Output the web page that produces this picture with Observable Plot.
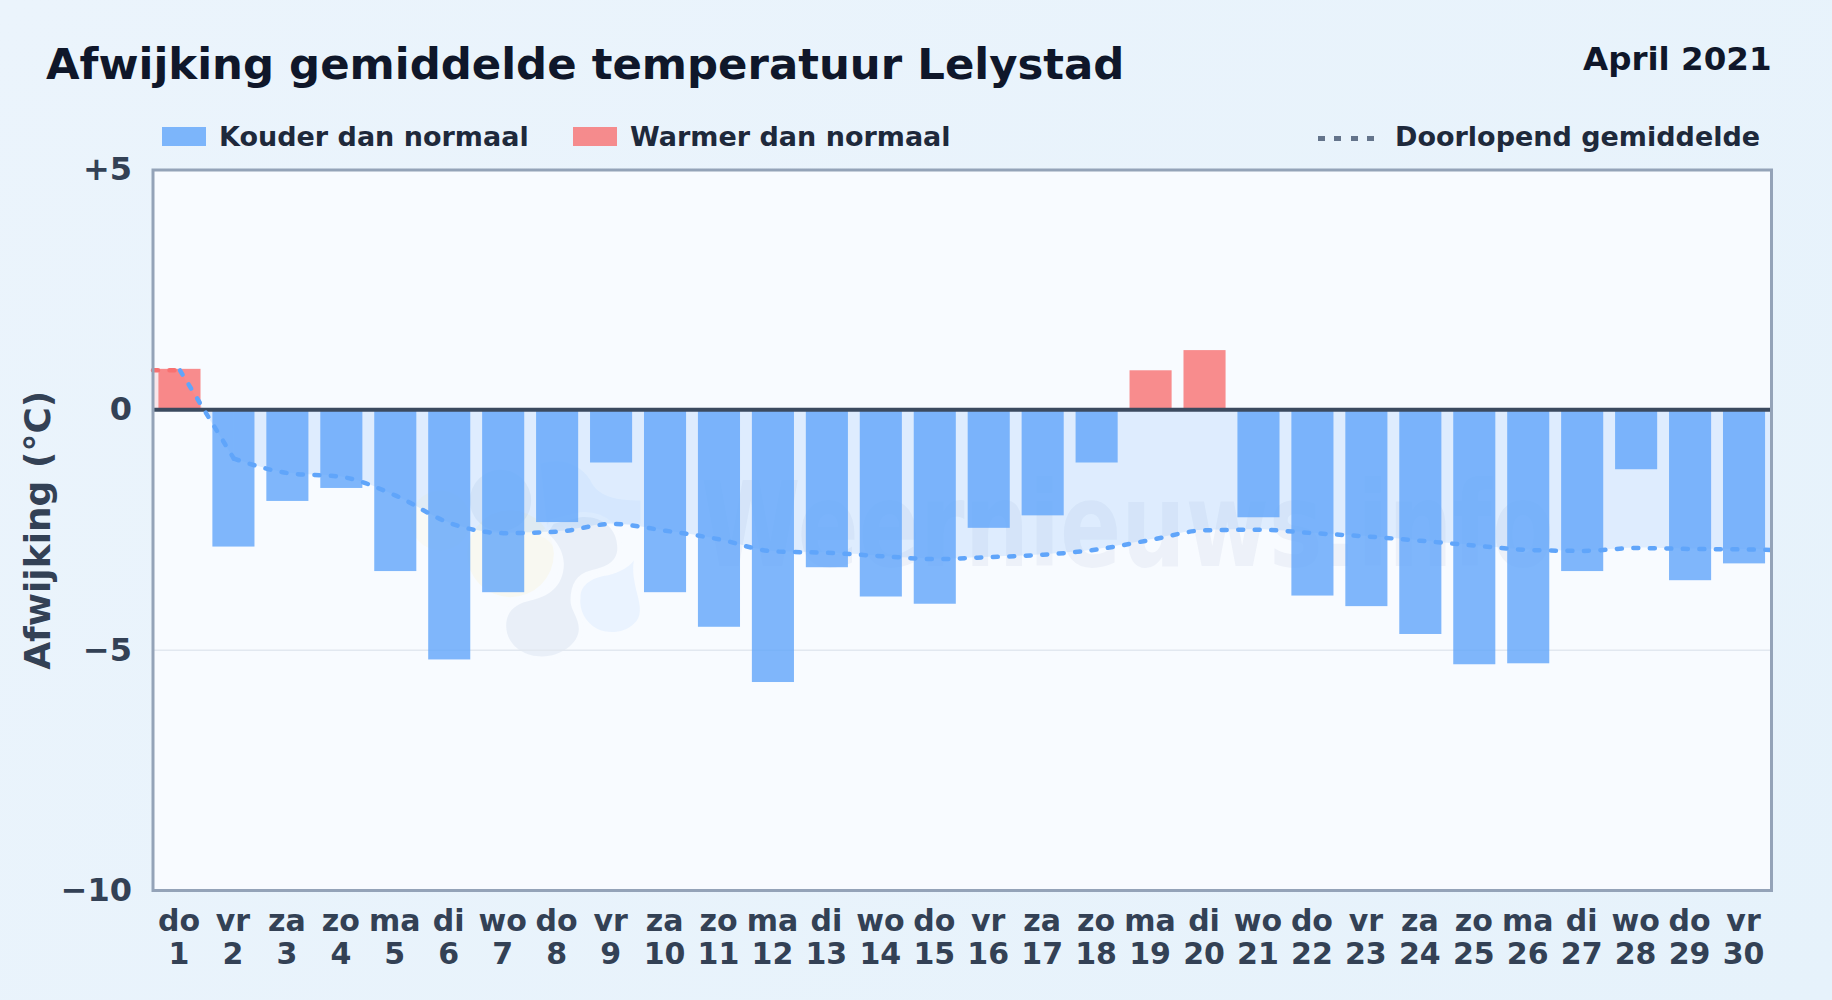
<!DOCTYPE html>
<html lang="nl">
<head>
<meta charset="utf-8">
<title>Afwijking gemiddelde temperatuur Lelystad</title>
<script src="https://cdn.jsdelivr.net/npm/d3@7"></script>
<script src="https://cdn.jsdelivr.net/npm/@observablehq/plot@0.6"></script>
<style>
  html, body { margin: 0; padding: 0; width: 1832px; height: 1000px; overflow: hidden;
    background: linear-gradient(135deg, #ebf4fc, #e6f2fb);
    font-family: "DejaVu Sans", sans-serif; font-weight: 700; }
  #header { position: relative; width: 1832px; height: 150px; }
  #header > * { position: absolute; white-space: nowrap; line-height: 1; }
  #title { left: 46px; top: 43px; font-size: 43.4px; color: #0f172a; }
  #period { right: 60.5px; top: 43px; font-size: 32.5px; color: #0f172a; }
  .leg { top: 123px; font-size: 27px; color: #1e293b; }
  .swatch { top: 127px; width: 44px; height: 19px; }
  #dots { left: 1317.5px; top: 136px; width: 56px; height: 5px;
    background: repeating-linear-gradient(90deg, #64748b 0 7px, transparent 7px 16.3px); }
  #chart svg { display: block; overflow: visible; }
</style>
</head>
<body>
<div id="header">
  <div id="title">Afwijking gemiddelde temperatuur Lelystad</div>
  <div id="period">April 2021</div>
  <div class="swatch" style="left:162px;background:rgba(96,165,250,.8)"></div>
  <div class="leg" style="left:219px">Kouder dan normaal</div>
  <div class="swatch" style="left:573px;background:rgba(248,113,113,.8)"></div>
  <div class="leg" style="left:630px">Warmer dan normaal</div>
  <div id="dots"></div>
  <div class="leg" style="left:1395px">Doorlopend gemiddelde</div>
</div>
<div id="chart"></div>
<script>
const days = [1,2,3,4,5,6,7,8,9,10,11,12,13,14,15,16,17,18,19,20,21,22,23,24,25,26,27,28,29,30];
const weekdays = ["do","vr","za","zo","ma","di","wo","do","vr","za","zo","ma","di","wo","do","vr","za","zo","ma","di","wo","do","vr","za","zo","ma","di","wo","do","vr"];
const deviations = [0.85,-2.85,-1.9,-1.63,-3.36,-5.2,-3.8,-2.34,-1.1,-3.8,-4.52,-5.67,-3.28,-3.89,-4.04,-2.46,-2.2,-1.1,0.82,1.24,-2.24,-3.87,-4.09,-4.67,-5.3,-5.28,-3.36,-1.24,-3.55,-3.2];
const runningMean = [0.83,-1.01,-1.31,-1.39,-1.78,-2.35,-2.56,-2.53,-2.37,-2.51,-2.69,-2.94,-2.97,-3.04,-3.1,-3.06,-3.01,-2.9,-2.7,-2.5,-2.49,-2.56,-2.63,-2.72,-2.82,-2.91,-2.93,-2.87,-2.89,-2.9];
const startMean = 0.83, endMean = -2.91, zeroCrossDay = 1.45;
const yTicks = [5,0,-5,-10];
const yTickLabels = ["+5","0","\u22125","\u221210"];

const table = days.map((day,i) => ({day, dev: deviations[i], mean: runningMean[i]}));
const warmTrack = [{day:0.5, mean:startMean}, table[0]];
const dropTrack = [table[0], table[1]];
const coldTrack = table.slice(1).concat({day:30.5, mean:endMean});
const crossPoint = {day:zeroCrossDay, mean:0};
const barHalf = 0.39;
const cold = "#60a5fa", warm = "#f87171";
const dash = {strokeWidth: 4.5, strokeDasharray: "5 11.5", strokeLinecap: "round"};

const logo = `<svg xmlns="http://www.w3.org/2000/svg" viewBox="0 0 1500 780" width="500" height="260">
<circle cx="510" cy="400" r="130" fill="#fde68a" opacity=".12"/>
<circle cx="300" cy="300" r="90" fill="#fde68a" opacity=".08"/>
<path d="M600,130 C660,110 720,130 750,180 C770,225 820,240 900,240 L900,310 L620,320 Z" fill="#60a5fa" opacity=".07"/>
<circle cx="480" cy="240" r="92" fill="#3b64a0" opacity=".07"/>
<path d="M720,530 C720,490 760,470 800,465 C840,455 865,440 880,420 C875,450 880,480 890,520 C900,560 905,590 880,610 C850,640 800,640 770,625 C735,605 715,570 720,530 Z" fill="#60a5fa" opacity=".09"/>
<path d="M497,615 C497,570 530,548 570,540 C620,530 670,500 670,430 C670,390 640,350 620,340 L640,310 L720,290 C790,285 835,330 830,390 C825,430 790,440 750,450 C710,460 690,490 690,540 C690,570 715,590 715,625 C715,670 660,708 605,708 C545,708 497,670 497,615 Z" fill="#f8fbff" stroke="#f8fbff" stroke-width="30" opacity=".7"/>
<path d="M497,615 C497,570 530,548 570,540 C620,530 670,500 670,430 C670,390 640,350 620,340 L640,310 L720,290 C790,285 835,330 830,390 C825,430 790,440 750,450 C710,460 690,490 690,540 C690,570 715,590 715,625 C715,670 660,708 605,708 C545,708 497,670 497,615 Z" fill="#3b64a0" opacity=".08"/>
</svg>`;
const logoSrc = "data:image/svg+xml;utf8," + encodeURIComponent(logo);

const plot = Plot.plot({
  width: 1832, height: 850,
  marginLeft: 152.5, marginRight: 61, marginTop: 19.5, marginBottom: 110,
  style: {background: "transparent", fontFamily: "'DejaVu Sans', sans-serif", overflow: "visible"},
  x: {type: "linear", domain: [0.5, 30.5]},
  y: {domain: [-10, 5]},
  marks: [
    Plot.frame({fill: "#f8fbff", stroke: "none"}),
    Plot.text(["Weernieuws.info"], {frameAnchor: "top-left", dx: 548, dy: 396, textAnchor: "start", lineAnchor: "bottom",
      fontSize: 118, fill: "#1e3a8a", fillOpacity: 0.05,
      render: (i, s, v, d, c, next) => {
        const g = next(i, s, v, d, c);
        d3.select(g).selectAll("text").attr("textLength", 853).attr("lengthAdjust", "spacingAndGlyphs");
        return g;
      }}),
    Plot.image([0], {frameAnchor: "top-left", dx: 437.5, dy: 380.5, width: 500, height: 260, src: () => logoSrc}),
    Plot.ruleY([-5], {stroke: "#e2e8f0", strokeWidth: 1.5}),
    Plot.areaY([...warmTrack, crossPoint], {x: "day", y1: 0, y2: "mean", fill: warm, fillOpacity: 0.15}),
    Plot.areaY([crossPoint, table[1]], {x: "day", y1: 0, y2: "mean", fill: cold, fillOpacity: 0.17}),
    Plot.areaY(coldTrack, {x: "day", y1: 0, y2: "mean", curve: "monotone-x", fill: cold, fillOpacity: 0.17}),
    Plot.rectY(table, {x1: d => d.day - barHalf, x2: d => d.day + barHalf, y1: 0, y2: "dev",
      fill: d => d.dev < 0 ? cold : warm, fillOpacity: 0.8}),
    Plot.ruleY([0], {stroke: "#3b4a5f", strokeWidth: 4, dy: -0.5}),
    Plot.line(warmTrack, {x: "day", y: "mean", stroke: warm, ...dash}),
    Plot.line(dropTrack, {x: "day", y: "mean", stroke: cold, ...dash}),
    Plot.line(coldTrack, {x: "day", y: "mean", curve: "monotone-x", stroke: cold, ...dash}),
    Plot.frame({stroke: "#94a3b8", strokeWidth: 3}),
    Plot.axisX({ticks: days, tickFormat: d => weekdays[d-1] + "\n" + d, tickSize: 0, tickPadding: 16, dx: -1,
      fontSize: 30, fontWeight: 700, lineHeight: 1.13, fill: "#334155", label: null}),
    Plot.axisY({ticks: yTicks, tickFormat: d => yTickLabels[yTicks.indexOf(d)], tickSize: 0, tickPadding: 21,
      fontSize: 32, fontWeight: 700, fill: "#334155", label: null}),
    Plot.text(["Afwijking (\u00b0C)"], {frameAnchor: "left", dx: -114.5, rotate: -90, textAnchor: "middle",
      fontSize: 36, fontWeight: 700, fill: "#334155"})
  ]
});
document.getElementById("chart").append(plot);
</script>
</body>
</html>
